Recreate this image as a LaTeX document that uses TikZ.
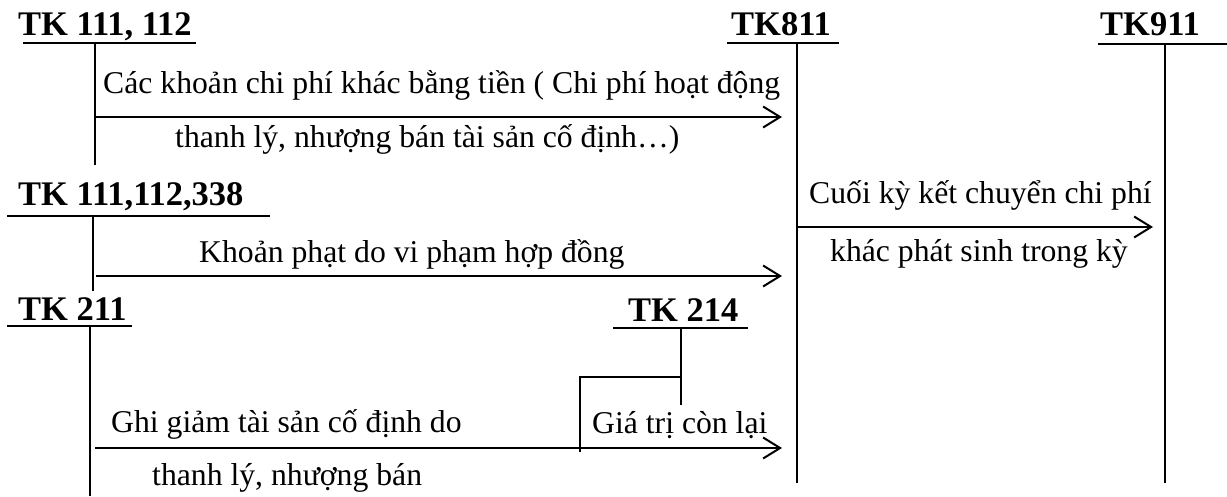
\documentclass[tikz,border=0pt]{standalone}
\usepackage{fontspec}
\setmainfont{Liberation Serif}
\usetikzlibrary{arrows.meta}
\begin{document}
\begin{tikzpicture}[x=1pt,y=-1pt,
  acct/.style={anchor=base west,inner sep=0pt,font=\fontsize{34.5}{40}\selectfont\bfseries},
  lbl/.style={anchor=base west,inner sep=0pt,font=\fontsize{31.7}{38}\selectfont},
  rule/.style={line width=2pt},
  flow/.style={line width=2pt,-{Straight Barb[length=17pt,width=21pt,line width=2pt]}}]
\useasboundingbox (0,0) rectangle (1227,496);

% account titles
\node[acct] (a111) at (18,35) {TK 111, 112};
\node[acct] (a811) at (731,35) {TK811};
\node[acct] (a911) at (1100,35) {TK911};
\node[acct] (a338) at (18,205) {TK 111,112,338};
\node[acct] (a211) at (18,320) {TK 211};
\node[acct] (a214) at (628,321) {TK 214};

% T-account rules
\draw[rule] (23,43) -- (196,43);
\draw[rule] (727,43) -- (839,43);
\draw[rule] (1098,44) -- (1227,44);
\draw[rule] (7,216) -- (270,216);
\draw[rule] (7,326) -- (132,326);
\draw[rule] (613,328) -- (748,328);

\coordinate (v111t) at (95,43);  \coordinate (v111b) at (95,165);
\coordinate (v338t) at (93,216); \coordinate (v338b) at (93,291);
\coordinate (v211t) at (90,326); \coordinate (v211b) at (90,496);
\coordinate (v811t) at (797,43); \coordinate (v811b) at (797,483);
\coordinate (v911t) at (1165,44); \coordinate (v911b) at (1165,483);
\coordinate (v214t) at (681,328); \coordinate (v214b) at (681,405);
\draw[rule] (v111t) -- (v111b);
\draw[rule] (v338t) -- (v338b);
\draw[rule] (v211t) -- (v211b);
\draw[rule] (v811t) -- (v811b);
\draw[rule] (v911t) -- (v911b);
\draw[rule] (v214t) -- (v214b);

% flows into TK811
\coordinate (s1) at (95,117);  \coordinate (e1) at (782,117);
\coordinate (s2) at (96,276);  \coordinate (e2) at (782,276);
\coordinate (s3) at (95,448);  \coordinate (e3) at (782,448);
\draw[flow] (s1) -- (e1);
\draw[flow] (s2) -- (e2);
\draw[flow] (s3) -- (e3);

% branch from TK214
\coordinate (b1) at (681,377); \coordinate (b2) at (580,377); \coordinate (b3) at (580,452);
\draw[rule] (b1) -- (b2) -- (b3);

% closing transfer to TK911
\coordinate (s4) at (797,227); \coordinate (e4) at (1153,227);
\draw[flow] (s4) -- (e4);

% labels
\node[lbl] (l1a) at (103,93) {Các khoản chi phí khác bằng tiền ( Chi phí hoạt động};
\node[lbl] (l1b) at (175,147) {thanh lý, nhượng bán tài sản cố định…)};
\node[lbl] (l2) at (199,262) {Khoản phạt do vi phạm hợp đồng};
\node[lbl] (l3a) at (111,432) {Ghi giảm tài sản cố định do};
\node[lbl] (l3b) at (152,485) {thanh lý, nhượng bán};
\node[lbl] (l4) at (592,433) {Giá trị còn lại};
\node[lbl] (l5a) at (809,203) {Cuối kỳ kết chuyển chi phí};
\node[lbl] (l5b) at (830,261) {khác phát sinh trong kỳ};
\end{tikzpicture}
\end{document}
